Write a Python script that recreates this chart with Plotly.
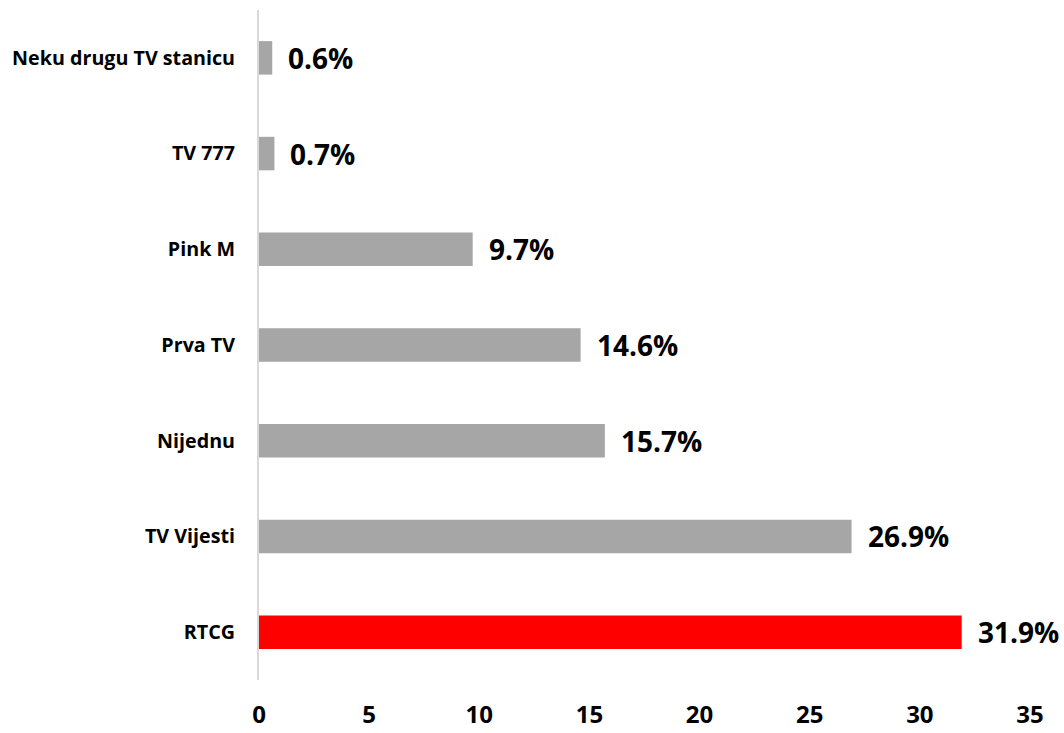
import plotly.graph_objects as go

categories = ["RTCG", "TV Vijesti", "Nijednu", "Prva TV", "Pink M", "TV 777", "Neku drugu TV stanicu"]
values = [31.9, 26.9, 15.7, 14.6, 9.7, 0.7, 0.6]
labels = ["31.9%", "26.9%", "15.7%", "14.6%", "9.7%", "0.7%", "0.6%"]
colors = ["#ff0000", "#a6a6a6", "#a6a6a6", "#a6a6a6", "#a6a6a6", "#a6a6a6", "#a6a6a6"]
x_ticks = [0, 5, 10, 15, 20, 25, 30, 35]

FONT = "Open Sans"

fig = go.Figure()
fig.add_trace(go.Bar(
    x=values, y=categories, orientation="h",
    marker=dict(color=colors, line=dict(width=0)),
    width=0.35, hoverinfo="skip",
))

for c, v, t in zip(categories, values, labels):
    fig.add_annotation(
        x=v, y=c, text=t, showarrow=False, xanchor="left", yanchor="middle",
        xshift=14, font=dict(family=FONT, size=28, color="#000000", weight="bold"),
    )

fig.update_layout(
    width=1064, height=733,
    margin=dict(l=259, r=34, t=10, b=53, autoexpand=False),
    paper_bgcolor="white", plot_bgcolor="white",
    showlegend=False,
    font=dict(family=FONT, color="#000000"),
    xaxis=dict(
        range=[0, 35], tickvals=x_ticks, ticktext=[str(t) for t in x_ticks],
        showgrid=False, zeroline=False, showline=False, automargin=False,
        ticks="outside", ticklen=13, tickcolor="rgba(0,0,0,0)",
        tickfont=dict(family=FONT, size=24, color="#000000", weight="bold"),
        fixedrange=True,
    ),
    yaxis=dict(
        categoryorder="array", categoryarray=categories,
        range=[-0.5, 6.5], automargin=False,
        showgrid=False, zeroline=False,
        showline=True, linecolor="#d9d9d9", linewidth=2,
        ticks="outside", ticklen=18, tickcolor="rgba(0,0,0,0)",
        tickfont=dict(family=FONT, size=19.7, color="#000000", weight="bold"),
        fixedrange=True,
    ),
)

fig.write_html(
    "out.html",
    config={"displayModeBar": False},
    post_script="document.body.style.margin='0';document.body.style.overflow='hidden';",
)
